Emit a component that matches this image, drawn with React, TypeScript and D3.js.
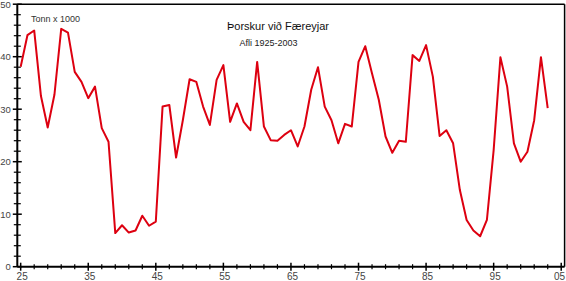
import React from "react";
import * as d3 from "d3";

const years: number[] = d3.range(1925, 2004);
const catch_: number[] = [
  38.1, 44.1, 45.0, 32.5, 26.5, 32.8, 45.3, 44.6, 37.1, 35.2,
  32.1, 34.3, 26.4, 23.8, 6.4, 7.9, 6.5, 6.9, 9.7, 7.8,
  8.6, 30.5, 30.8, 20.8, 27.9, 35.7, 35.2, 30.5, 27.0, 35.6,
  38.4, 27.6, 31.1, 27.6, 26.0, 39.0, 26.7, 24.1, 24.0, 25.1,
  26.0, 22.9, 26.7, 33.7, 38.0, 30.5, 27.9, 23.5, 27.2, 26.7,
  39.0, 42.0, 36.8, 31.8, 24.8, 21.7, 24.0, 23.8, 40.3, 39.2,
  42.2, 36.2, 24.9, 26.0, 23.5, 14.6, 8.9, 6.9, 5.8, 8.9,
  22.2, 39.9, 34.3, 23.5, 20.0, 21.9, 27.9, 39.9, 30.2,
];
const xMajorTicks: number[] = [1925, 1935, 1945, 1955, 1965, 1975, 1985, 1995, 2005];
const xTickLabels: string[] = ["25", "35", "45", "55", "65", "75", "85", "95", "05"];
const yMajorTicks: number[] = [0, 10, 20, 30, 40, 50];
const title = "Þorskur við Færeyjar";
const subtitle = "Afli 1925-2003";
const unitLabel = "Tonn x 1000";

const W = 566;
const H = 281;

export default function App() {
  const x = d3.scaleLinear().domain([1924.5, 2005.5]).range([17.3, 564.6]);
  const y = d3.scaleLinear().domain([0, 50]).range([266.7, 4.2]);
  const line = d3
    .line<number>()
    .x((_, i) => x(years[i]))
    .y((d) => y(d));
  const xMinor = d3.range(1925, 2006, 2).filter((v) => !xMajorTicks.includes(v));
  const yMinor = d3.range(0, 51, 2).filter((v) => !yMajorTicks.includes(v));
  const font = "'Liberation Sans', Arial, Helvetica, sans-serif";
  const x0 = x(1924.5);
  const x1 = x(2005.5);
  const yb = y(0);
  const yt = y(50);
  return (
    <svg
      width={W}
      height={H}
      style={{ position: "absolute", left: 0, top: 0, background: "#fff" }}
      fontFamily={font}
    >
      <rect x={0} y={0} width={W} height={H} fill="#fff" />
      {/* frame */}
      <line x1={x0} x2={x1} y1={yt} y2={yt} stroke="#000" strokeWidth={1.5} />
      <line x1={x1} x2={x1} y1={yt} y2={yb} stroke="#000" strokeWidth={1.5} />
      <line x1={x0} x2={x0} y1={yt} y2={yb} stroke="#000" strokeWidth={2} />
      <line x1={x0} x2={x1} y1={yb} y2={yb} stroke="#000" strokeWidth={2} />
      {/* y ticks */}
      {yMinor.map((v) => (
        <line key={"ym" + v} x1={x0 - 3.5} x2={x0 + 3.5} y1={y(v)} y2={y(v)} stroke="#000" strokeWidth={1.2} />
      ))}
      {yMajorTicks.map((v) => (
        <g key={"yM" + v}>
          <line x1={x0 - 4.5} x2={x0 + 4.5} y1={y(v)} y2={y(v)} stroke="#000" strokeWidth={1.5} />
          <text
            x={10.8}
            y={Math.max(y(v), 5)}
            dy="0.35em"
            textAnchor="end"
            fontSize={9.5}
            fill="#444"
          >
            {v}
          </text>
        </g>
      ))}
      {/* x ticks */}
      {xMinor.map((v) => (
        <line key={"xm" + v} x1={x(v)} x2={x(v)} y1={yb - 2.5} y2={yb + 2.5} stroke="#000" strokeWidth={1.2} />
      ))}
      {xMajorTicks.map((v, i) => (
        <g key={"xM" + v}>
          <line x1={x(v)} x2={x(v)} y1={yb - 4} y2={yb + 4} stroke="#000" strokeWidth={1.5} />
          <text x={Math.min(x(v) + 1.5, 559.5)} y={279.5} textAnchor="middle" fontSize={10} fill="#444">
            {xTickLabels[i]}
          </text>
        </g>
      ))}
      {/* data line */}
      <path d={line(catch_) || ""} fill="none" stroke="#dd0010" strokeWidth={2} strokeLinejoin="round" />
      {/* texts */}
      <text x={31} y={22} fontSize={9} fill="#333">
        {unitLabel}
      </text>
      <text x={278} y={30} textAnchor="middle" fontSize={11} fill="#111">
        {title}
      </text>
      <text x={268.5} y={46} textAnchor="middle" fontSize={9} fill="#222">
        {subtitle}
      </text>
    </svg>
  );
}
